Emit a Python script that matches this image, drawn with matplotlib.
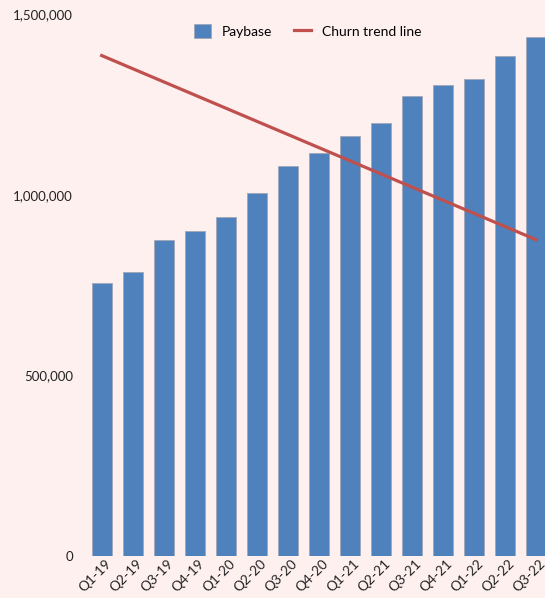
import matplotlib.pyplot as plt
from matplotlib.transforms import ScaledTranslation

quarters = ["Q1-19", "Q2-19", "Q3-19", "Q4-19", "Q1-20", "Q2-20", "Q3-20", "Q4-20",
            "Q1-21", "Q2-21", "Q3-21", "Q4-21", "Q1-22", "Q2-22", "Q3-22"]
paybase = [755000, 787000, 874000, 900000, 939000, 1005000, 1078000, 1114000,
           1163000, 1197000, 1274000, 1303000, 1320000, 1385000, 1435000]
# trend line endpoints (first and last quarter)
trend_quarters = ["Q1-19", "Q3-22"]
churn_trend = [1385000, 875000]

bg = "#fff0f0"
plt.rcParams["font.family"] = ["Lato", "DejaVu Sans"]

fig = plt.figure(figsize=(5.45, 5.98), dpi=100, facecolor=bg)
ax = fig.add_axes([80 / 545, 42 / 598, 465 / 545, 542 / 598])
ax.set_facecolor(bg)

x = list(range(len(quarters)))
bars = ax.bar(x, paybase, width=0.64, color="#4f81bd", edgecolor="#a0a8b8",
              linewidth=0.6, label="Paybase", zorder=2)
tx = [quarters.index(q) for q in trend_quarters]
line, = ax.plot(tx, churn_trend, color="#c0504d", linewidth=2.3,
                label="Churn trend line", zorder=3)

ax.set_xlim(-0.699, 14.277)
ax.set_ylim(0, 1500000)
ax.set_yticks([0, 500000, 1000000, 1500000])
ax.set_yticklabels(["0", "500,000", "1,000,000", "1,500,000"], fontsize=9.5, color="#222222")
ax.set_xticks(x)
ax.set_xticklabels(quarters, rotation=45, ha="right", rotation_mode="anchor",
                   fontsize=9.8, color="#222222")
ax.tick_params(axis="x", length=0, pad=1)
ax.tick_params(axis="y", length=0, pad=5)
offset = ScaledTranslation(3 / 100, 0, fig.dpi_scale_trans)
for lbl in ax.get_xticklabels():
    lbl.set_transform(lbl.get_transform() + offset)
for s in ax.spines.values():
    s.set_visible(False)

ax.legend(handles=[bars, line], loc="upper center", bbox_to_anchor=(0.49, 1.005), ncol=2,
          frameon=False, fontsize=10, handlelength=1.2, handleheight=1.2,
          columnspacing=1.6, handletextpad=0.8)

plt.savefig("out.png", dpi=100, facecolor=bg)
